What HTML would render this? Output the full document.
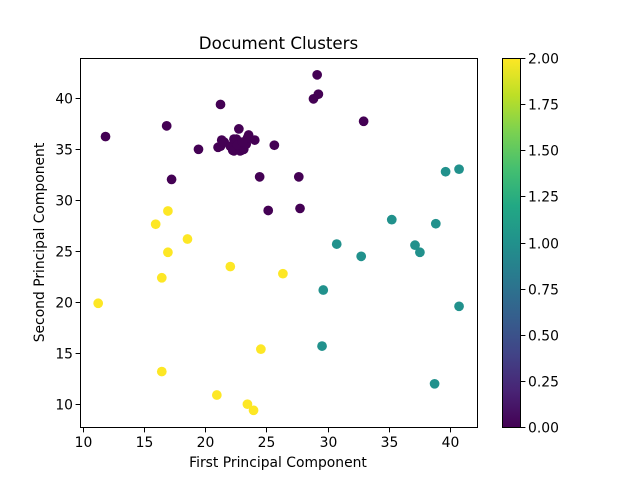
<!DOCTYPE html>
<html>
<head>
<meta charset="utf-8">
<title>Document Clusters</title>
<style>
html,body{margin:0;padding:0;background:#fff;}
svg{display:block;}
text{font-family:"DejaVu Sans","Liberation Sans",sans-serif;fill:#000;}
</style>
</head>
<body>
<svg id="chart" xmlns="http://www.w3.org/2000/svg" width="640" height="480" viewBox="0 0 640 480">
  <defs>
    <linearGradient id="viridis" x1="0" y1="1" x2="0" y2="0">
      <stop offset="0" stop-color="#440154"/>
      <stop offset="0.1" stop-color="#482475"/>
      <stop offset="0.2" stop-color="#414487"/>
      <stop offset="0.3" stop-color="#355f8d"/>
      <stop offset="0.4" stop-color="#2a788e"/>
      <stop offset="0.5" stop-color="#21918c"/>
      <stop offset="0.6" stop-color="#22a884"/>
      <stop offset="0.7" stop-color="#44bf70"/>
      <stop offset="0.8" stop-color="#7ad151"/>
      <stop offset="0.9" stop-color="#bddf26"/>
      <stop offset="1" stop-color="#fde725"/>
    </linearGradient>
  </defs>
  <rect x="0" y="0" width="640" height="480" fill="#ffffff"/>
  <text x="278.5" y="49" font-size="16.67" text-anchor="middle">Document Clusters</text>
  <g id="points"></g>
  <rect x="80.5" y="58.5" width="397" height="369" fill="none" stroke="#000" stroke-width="1"/>
  <g id="xticks"></g>
  <g id="yticks"></g>
  <text x="278" y="467" font-size="13.89" text-anchor="middle">First Principal Component</text>
  <text transform="translate(44 242.5) rotate(-90)" font-size="13.89" text-anchor="middle">Second Principal Component</text>
  <rect x="502.5" y="58.5" width="18" height="369" fill="url(#viridis)"/>
  <rect x="502.5" y="58.5" width="18" height="369" fill="none" stroke="#000" stroke-width="1"/>
  <g id="cticks"></g>
</svg>
<script>
const clusterColors = ['#440154', '#21918c', '#fde725'];
const cluster0X = [11.8,16.8,17.2,19.4,21.2,29.1,29.2,28.8,32.9,25.6,24.4,27.6,25.1,27.7,21,21.3,21.2,21.5,22,22.2,22.3,22.5,22.3,22.8,22.9,22.9,23.1,23.3,23.5,23.4,24,22.7,22.6,23];
const cluster0Y = [36.25,37.3,32.05,35,39.4,42.3,40.4,39.95,37.75,35.4,32.3,32.3,29,29.2,35.2,35.9,35.3,35.7,35.3,34.9,36,36,34.85,34.85,35.5,34.9,35,35.5,36.4,36.1,35.9,37,35.4,35.7];
const cluster1X = [40.7,39.6,35.2,38.8,30.7,32.7,37.1,37.5,29.6,40.7,29.5,38.7];
const cluster1Y = [33.05,32.8,28.1,27.7,25.7,24.5,25.6,24.9,21.2,19.6,15.7,12];
const cluster2X = [16.9,15.9,18.5,16.9,16.4,22,26.3,11.2,24.5,16.4,20.9,23.4,23.9];
const cluster2Y = [28.95,27.65,26.2,24.9,22.4,23.5,22.8,19.9,15.4,13.2,10.9,10,9.4];
const xTickValues = [10,15,20,25,30,35,40];
const yTickValues = [10,15,20,25,30,35,40];
const colorbarTickValues = [0,0.25,0.5,0.75,1,1.25,1.5,1.75,2];

const NS = 'http://www.w3.org/2000/svg';
function xScale(v){ return 83.5 + (v - 10) * 12.233; }
function yScale(v){ return 404.2 - (v - 10) * 10.196; }
function cScale(v){ return 427.5 - v / 2 * 369; }

function make(tag, attrs, parent){
  const el = document.createElementNS(NS, tag);
  for (const k in attrs) el.setAttribute(k, attrs[k]);
  parent.appendChild(el);
  return el;
}

const pointsGroup = document.getElementById('points');
[[cluster0X, cluster0Y], [cluster1X, cluster1Y], [cluster2X, cluster2Y]].forEach(function(series, c){
  series[0].forEach(function(xv, i){
    const dot = make('circle', {cx: xScale(xv), cy: yScale(series[1][i]), r: 4.86, fill: clusterColors[c]}, pointsGroup);
    
    
  });
});

const xGroup = document.getElementById('xticks');
xTickValues.forEach(function(v){
  const x = Math.round(xScale(v) - 0.5) + 0.5;
  const mark = make('line', {x1: x, x2: x, y1: 427.5, y2: 432.4, stroke: '#000', 'stroke-width': 1}, xGroup);
  
  
  const label = make('text', {x: x, y: 447, 'font-size': 13.89, 'text-anchor': 'middle'}, xGroup);
  
  
  label.textContent = String(v);
});

const yGroup = document.getElementById('yticks');
yTickValues.forEach(function(v){
  const y = Math.round(yScale(v) - 0.5) + 0.5;
  const mark = make('line', {x1: 75.6, x2: 80.5, y1: y, y2: y, stroke: '#000', 'stroke-width': 1}, yGroup);
  
  
  const label = make('text', {x: 73, y: y + 5, 'font-size': 13.89, 'text-anchor': 'end'}, yGroup);
  
  
  label.textContent = String(v);
});

const cGroup = document.getElementById('cticks');
colorbarTickValues.forEach(function(v){
  const y = Math.round(cScale(v) - 0.5) + 0.5;
  const mark = make('line', {x1: 520.5, x2: 525.4, y1: y, y2: y, stroke: '#000', 'stroke-width': 1}, cGroup);
  
  
  const label = make('text', {x: 528, y: y + 5, 'font-size': 13.89}, cGroup);
  
  
  label.textContent = v.toFixed(2);
});
</script>
</body>
</html>
